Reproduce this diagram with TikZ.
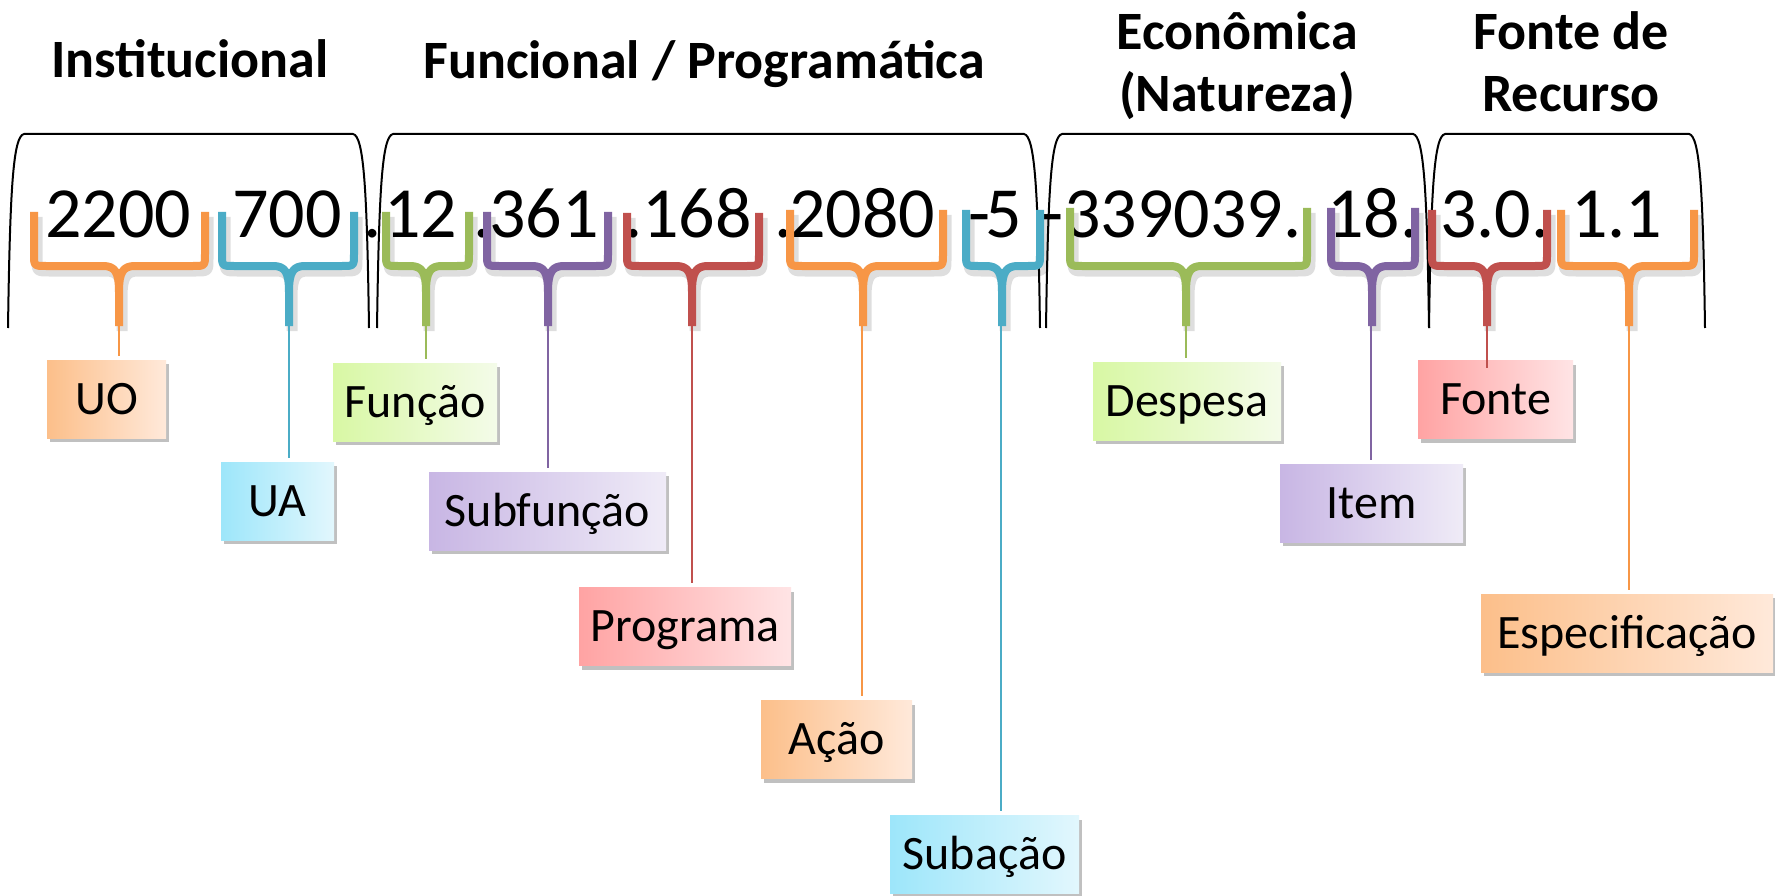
\documentclass[tikz,border=0pt]{standalone}
\usepackage{fontspec}
\setmainfont{Carlito}
\usetikzlibrary{shadows}
\definecolor{bOr}{HTML}{F79646}
\definecolor{bBl}{HTML}{4BACC6}
\definecolor{bGr}{HTML}{9BBB59}
\definecolor{bPu}{HTML}{8064A2}
\definecolor{bRe}{HTML}{C0504D}
\definecolor{oL}{HTML}{FCBF8A}\definecolor{oR}{HTML}{FFE9DA}
\definecolor{blL}{HTML}{9DE6FA}\definecolor{blR}{HTML}{E2F7FD}
\definecolor{gL}{HTML}{D8F8A4}\definecolor{gR}{HTML}{F4FBE9}
\definecolor{pL}{HTML}{C8B6E4}\definecolor{pR}{HTML}{EFEBF7}
\definecolor{rL}{HTML}{FFA3A3}\definecolor{rR}{HTML}{FFE4E5}
\tikzset{
  num/.style={font=\fontsize{72}{86}\selectfont, inner sep=0pt, anchor=base west},
  hdr/.style={font=\fontsize{54}{64}\selectfont\bfseries, inner sep=0pt, anchor=base},
  lab/.style={font=\fontsize{48}{57}\selectfont, text height=30.9pt, text depth=0pt,
    minimum height=78pt, inner sep=0pt, left color=#1L, right color=#1R,
    drop shadow={shadow xshift=3pt, shadow yshift=-4pt, opacity=0.35, fill=black!70}},
  conn/.style={draw=#1, line width=1.6pt, shorten >=4pt},
  bigbr/.style={draw=black, line width=2pt},
  cbr/.style={draw=#1, line width=8pt, line join=round},
  cbrsh/.style={draw=black, line width=11pt, opacity=0.13, line join=round}
}
\newcommand{\cbrpath}[5]{% style, xl, xm, xr, ytop
  \draw[#1] (#2,#5) -- (#2,254) .. controls (#2,266) .. (#2+12,266) -- (#3-16,266)
     .. controls (#3-4,266) and (#3,272) .. (#3,292) -- (#3,326)
     (#4,#5) -- (#4,254) .. controls (#4,266) .. (#4-12,266) -- (#3+16,266)
     .. controls (#3+4,266) and (#3,272) .. (#3,292);}
\newcommand{\colbrace}[5]{% xl, xm, xr, color, ytop
  \begin{scope}[xshift=3pt, yshift=-5pt]\cbrpath{cbrsh}{#1}{#2}{#3}{#5}\end{scope}
  \cbrpath{cbr=#4}{#1}{#2}{#3}{#5}}
\newcommand{\bigbracket}[2]{%
  \draw[bigbr] (#1,328) .. controls (#1+2,190) and (#1+5,136) .. (#1+16,134)
     -- (#2-16,134) .. controls (#2-5,136) and (#2-2,190) .. (#2,328);}
\begin{document}
\begin{tikzpicture}[x=1pt,y=-1pt]
\useasboundingbox (0,0) rectangle (1775,896);
\fill[white] (0,0) rectangle (1775,896);
% headers
\node[hdr] (hInst) at (190,78) {Institucional};
\node[hdr] (hFunc) at (704,79) {Funcional / Programática};
\node[hdr] (hEco1) at (1237,50) {Econômica};
\node[hdr] (hEco2) at (1237,112) {(Natureza)};
\node[hdr] (hFon1) at (1571,50) {Fonte de};
\node[hdr] (hFon2) at (1571,112) {Recurso};
% code digits
\node[num] (t1) at (45,238) {2200};
\node[num] (t2) at (232,238) {700};
\node[num] (t3) at (363,238) {.};
\node[num] (t4) at (384,238) {12};
\node[num] (t5) at (473,238) {.};
\node[num] (t6) at (489,238) {361};
\node[num] (t7) at (624,238) {.};
\node[num] (t8) at (642,238) {168};
\node[num] (t9) at (774,238) {.};
\node[num] (t10) at (789,238) {2080};
\node[num] (t11) at (968,238) {-};
\node[num] (t12) at (985,238) {5};
\node[num] (t13) at (1041,238) {-};
\node[num] (t14) at (1064,238) {339039.};
\node[num] (t15) at (1327,238) {18.};
\node[num] (t16) at (1440,238) {3.0.};
\node[num] (t17) at (1571,238) {1.1};
% big brackets
\bigbracket{8}{369}
\bigbracket{377}{1040}
\bigbracket{1046}{1429}
\bigbracket{1429}{1705}
% coloured braces
\colbrace{34}{119}{205}{bOr}{212}
\colbrace{222}{289}{354}{bBl}{212}
\colbrace{386}{426}{469}{bGr}{212}
\colbrace{487}{548}{608}{bPu}{212}
\colbrace{627}{692}{759}{bRe}{213}
\colbrace{790}{863}{943}{bOr}{210}
\colbrace{966}{1002}{1040}{bBl}{210}
\colbrace{1070}{1186}{1307}{bGr}{208}
\colbrace{1331}{1372}{1415}{bPu}{208}
\colbrace{1432}{1487}{1547}{bRe}{210}
\colbrace{1561}{1629}{1694}{bOr}{210}
% stem ends
\coordinate (sUO) at (119,326);
\coordinate (sUA) at (289,326);
\coordinate (sFun) at (426,326);
\coordinate (sSubf) at (548,326);
\coordinate (sProg) at (692,326);
\coordinate (sAcao) at (862,326);
\coordinate (sSuba) at (1001,326);
\coordinate (sDesp) at (1186,326);
\coordinate (sItem) at (1371,326);
\coordinate (sFont) at (1487,326);
\coordinate (sEsp) at (1629,326);
% label boxes
\node[lab=o, minimum width=119pt] (UO) at (106.5,399) {UO};
\node[lab=bl, minimum width=113pt] (UA) at (277.5,501) {UA};
\node[lab=g, minimum width=164pt] (Fun) at (415,402) {Função};
\node[lab=p, minimum width=237pt] (Subf) at (547.5,511) {Subfunção};
\node[lab=r, minimum width=212pt] (Prog) at (685,626.5) {Programa};
\node[lab=o, minimum width=151pt] (Acao) at (836.5,739.5) {Ação};
\node[lab=bl, minimum width=189pt] (Suba) at (984.5,854.5) {Subação};
\node[lab=g, minimum width=188pt] (Desp) at (1187,401) {Despesa};
\node[lab=p, minimum width=183pt] (Item) at (1371.5,503) {Item};
\node[lab=r, minimum width=155pt] (Font) at (1495.5,399.5) {Fonte};
\node[lab=o, minimum width=292pt] (Esp) at (1627,633) {Especificação};
% connectors
\draw[conn=bOr] (sUO) -- (UO.north -| sUO);
\draw[conn=bBl] (sUA) -- (UA.north -| sUA);
\draw[conn=bGr] (sFun) -- (Fun.north -| sFun);
\draw[conn=bPu] (sSubf) -- (Subf.north -| sSubf);
\draw[conn=bRe] (sProg) -- (Prog.north -| sProg);
\draw[conn=bOr] (sAcao) -- (Acao.north -| sAcao);
\draw[conn=bBl] (sSuba) -- (Suba.north -| sSuba);
\draw[conn=bGr] (sDesp) -- (Desp.north -| sDesp);
\draw[conn=bPu] (sItem) -- (Item.north -| sItem);
\draw[conn=bRe, shorten >=-8pt] (sFont) -- (Font.north -| sFont);
\draw[conn=bOr] (sEsp) -- (Esp.north -| sEsp);
\end{tikzpicture}
\end{document}
